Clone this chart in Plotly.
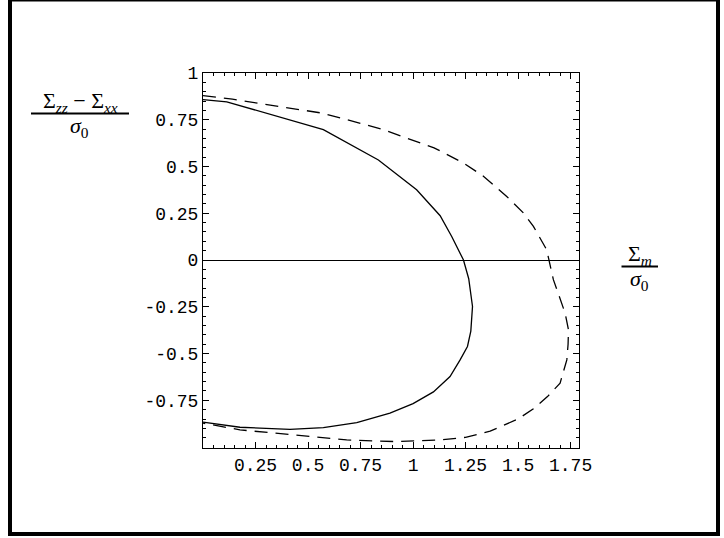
import plotly.graph_objects as go

# curva continua
solido_x = [0, 0.113, 0.573, 0.835, 1.017, 1.129, 1.184, 1.24, 1.265, 1.283, 1.275,
            1.259, 1.224, 1.176, 1.097, 1.0, 0.89, 0.732, 0.573, 0.414, 0.176, 0]
solido_y = [0.858, 0.846, 0.697, 0.535, 0.376, 0.237, 0.126, 0.0, -0.1, -0.248, -0.38,
            -0.462, -0.534, -0.623, -0.705, -0.768, -0.819, -0.869, -0.896, -0.905, -0.894, -0.867]

# curva tracejada
tracejado_x = [0, 0.14, 0.57, 0.85, 1.1, 1.24, 1.335, 1.446, 1.525, 1.573, 1.636, 1.668,
               1.724, 1.74, 1.738, 1.732, 1.7, 1.64, 1.573, 1.5, 1.367, 1.25, 1.129,
               0.922, 0.684, 0.414, 0.176, 0]
tracejado_y = [0.879, 0.86, 0.785, 0.70, 0.60, 0.519, 0.448, 0.34, 0.252, 0.18, 0.055, -0.105,
               -0.284, -0.373, -0.45, -0.534, -0.658, -0.73, -0.795, -0.85, -0.915, -0.948, -0.962,
               -0.971, -0.962, -0.935, -0.908, -0.872]

x_ticks = [0.25, 0.5, 0.75, 1, 1.25, 1.5, 1.75]
x_labels = ["0.25", "0.5", "0.75", "1", "1.25", "1.5", "1.75"]
y_ticks = [1, 0.75, 0.5, 0.25, 0, -0.25, -0.5, -0.75]
y_labels = ["1", "0.75", "0.5", "0.25", "0", "-0.25", "-0.5", "-0.75"]

W, H = 724, 538
L, R, T, B = 203, 579, 73, 448


def px(x):
    return (x - L) / (R - L)


def py(y):
    return (B - y) / (B - T)


fig = go.Figure()
fig.add_trace(go.Scatter(x=solido_x, y=solido_y, mode="lines",
                         line=dict(color="black", width=1.3)))
fig.add_trace(go.Scatter(x=tracejado_x, y=tracejado_y, mode="lines",
                         line=dict(color="black", width=1.3, dash="13px,8px")))

eixo = dict(showline=True, linecolor="black", linewidth=1, mirror="allticks",
            ticks="inside", ticklen=6, tickcolor="black", showgrid=False,
            tickfont=dict(family="Liberation Mono", size=18, color="black"),
            minor=dict(ticks="inside", ticklen=3, dtick=0.05, tickcolor="black", showgrid=False))

fig.update_layout(
    width=W, height=H, showlegend=False,
    margin=dict(l=L, r=W - R, t=T, b=H - B),
    plot_bgcolor="white", paper_bgcolor="white",
    xaxis=dict(range=[0, 1.79], tickvals=x_ticks, ticktext=x_labels, zeroline=False, **eixo),
    yaxis=dict(range=[-1.005, 1.0], tickvals=y_ticks, ticktext=y_labels, zeroline=True,
               zerolinecolor="black", zerolinewidth=1, **eixo),
)

# moldura da página
for x0, y0, x1, y1 in [(8, 0, 12, 536), (8, 0, 720, 1.5), (716, 0, 720, 536), (8, 532, 720, 536)]:
    fig.add_shape(type="rect", xref="paper", yref="paper", x0=px(x0), x1=px(x1), y0=py(y0), y1=py(y1),
                  fillcolor="black", line=dict(width=0), layer="above")

# rótulos em forma de fração
serif = dict(family="Liberation Serif", size=22, color="black")
rotulo = dict(xref="paper", yref="paper", showarrow=False, font=serif,
              xanchor="center", yanchor="middle")
fig.add_annotation(text="Σ<sub><i>zz</i></sub> − Σ<sub><i>xx</i></sub>", x=px(80), y=py(102), **rotulo)
fig.add_shape(type="line", xref="paper", yref="paper", x0=px(31), x1=px(129), y0=py(113.5), y1=py(113.5),
              line=dict(color="black", width=2))
fig.add_annotation(text="<i>σ</i><sub>0</sub>", x=px(79), y=py(127), **rotulo)

fig.add_annotation(text="Σ<sub><i>m</i></sub>", x=px(640), y=py(255), **rotulo)
fig.add_shape(type="line", xref="paper", yref="paper", x0=px(621.5), x1=px(658), y0=py(266.5), y1=py(266.5),
              line=dict(color="black", width=2))
fig.add_annotation(text="<i>σ</i><sub>0</sub>", x=px(639), y=py(280), **rotulo)

fig.write_html("out.html", config={"displayModeBar": False},
               post_script="document.body.style.margin='0';")
